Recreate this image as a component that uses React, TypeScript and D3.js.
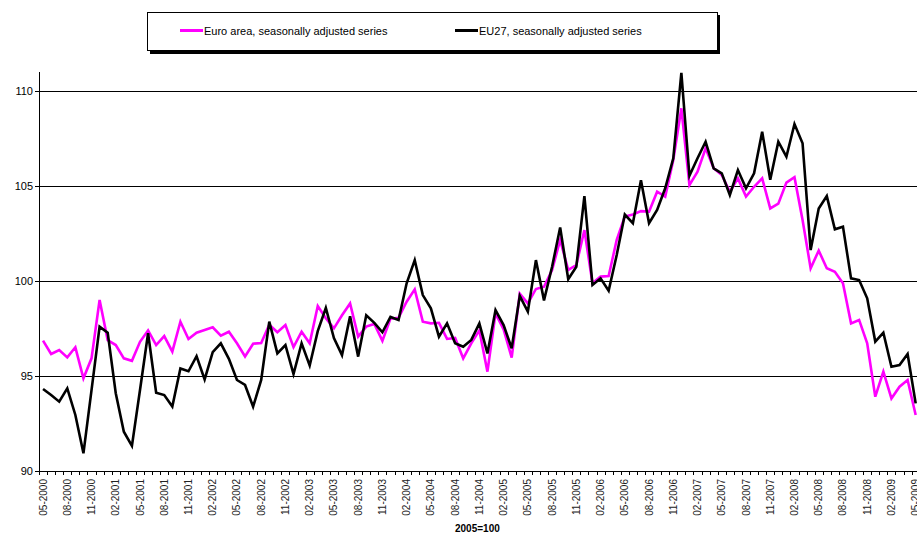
import { useEffect, useRef } from 'react';
import * as d3 from 'd3';

// monthly index, 2005=100, May 2000 .. May 2009
const startMonth = new Date(2000, 4, 1);
const endMonth = new Date(2009, 5, 1);
const months = d3.timeMonth.range(startMonth, endMonth).map((d) => d3.timeFormat('%m-%Y')(d));

const euroArea = [
  96.86, 96.16, 96.37, 95.98, 96.51, 94.88, 95.93, 99.0, 96.89, 96.63, 95.93, 95.8, 96.8, 97.4, 96.63, 97.1, 96.28, 97.86, 96.95,
  97.28, 97.42, 97.56, 97.12, 97.33, 96.72, 96.03, 96.7, 96.74, 97.7, 97.3, 97.68, 96.52, 97.33, 96.72, 98.68, 98.04, 97.51, 98.2,
  98.82, 97.07, 97.6, 97.74, 96.85, 98.02, 98.06, 98.91, 99.56, 97.86, 97.77, 97.8, 96.95, 97.0, 95.93, 96.72, 97.4, 95.23,
  98.3, 97.45, 95.97, 99.33, 98.82, 99.58, 99.7, 100.58, 102.16, 100.58, 100.84, 102.68, 99.88, 100.23, 100.26, 102.16, 103.39, 103.5, 103.68,
  103.65, 104.7, 104.44, 106.37, 109.09, 105.05, 105.75, 106.98, 105.93, 105.58, 104.7, 105.4, 104.44, 104.96, 105.4, 103.82, 104.07,
  105.18, 105.46, 103.21, 100.67, 101.6, 100.67, 100.49, 99.88, 97.77, 97.95, 96.72, 93.91, 95.23, 93.82, 94.44, 94.79, 92.95
];

const eu27 = [
  94.32, 94.0, 93.65, 94.35, 92.95, 90.93, 94.26, 97.6, 97.28, 94.09, 92.07, 91.32, 94.26, 97.25, 94.12, 94.0, 93.39, 95.4, 95.25,
  96.04, 94.82, 96.26, 96.72, 95.9, 94.79, 94.53, 93.39, 94.79, 97.86, 96.19, 96.63, 95.1, 96.72, 95.55, 97.36, 98.58, 97.0, 96.1,
  98.14, 96.02, 98.2, 97.8, 97.3, 98.11, 97.95, 99.88, 101.1, 99.26, 98.56, 97.07, 97.77, 96.72, 96.54, 96.9, 97.77, 96.19,
  98.47, 97.68, 96.46, 99.22, 98.39, 101.1, 98.98, 100.75, 102.82, 100.09, 100.75, 104.47, 99.79, 100.14, 99.49, 101.37, 103.5, 103.04, 105.3,
  103.04, 103.74, 104.88, 106.46, 110.96, 105.54, 106.46, 107.33, 105.93, 105.67, 104.53, 105.84, 104.88, 105.67, 107.86, 105.33, 107.33,
  106.54, 108.26, 107.25, 101.63, 103.82, 104.47, 102.72, 102.86, 100.14, 100.05, 99.09, 96.81, 97.28, 95.49, 95.58, 96.16, 93.56
];

const yTicks = [90, 95, 100, 105, 110];

const seriesList = [
  { name: 'Euro area, seasonally adjusted series', color: '#ff00ff', values: euroArea },
  { name: 'EU27, seasonally adjusted series', color: '#000000', values: eu27 }
];

export default function App() {
  const svgRef = useRef<SVGSVGElement | null>(null);

  useEffect(() => {
    const svgEl = svgRef.current;
    if (!svgEl) return;
    const width = 917;
    const height = 535;
    const svg = d3.select(svgEl);
    svg.selectAll('*').remove();

    const left = 39;
    const step = 8.08;
    const x = d3.scaleBand<string>().domain(months).range([left, left + step * months.length]).padding(0);
    const y = d3.scaleLinear().domain([90, 111]).range([471, 72]);
    const cx = (i: number) => (x(months[i]) ?? 0) + x.bandwidth() / 2;
    const font = 'Liberation Sans, Arial, sans-serif';

    // gridlines
    svg.append('g')
      .selectAll('line')
      .data(yTicks.filter((t) => t > 90))
      .join('line')
      .attr('x1', left).attr('x2', width)
      .attr('y1', (d) => Math.round(y(d)) + 0.5).attr('y2', (d) => Math.round(y(d)) + 0.5)
      .attr('stroke', '#000').attr('stroke-width', 1);

    // y axis
    svg.append('line').attr('x1', left + 0.5).attr('x2', left + 0.5).attr('y1', y(111)).attr('y2', 471.5).attr('stroke', '#000');
    svg.append('g')
      .selectAll('line')
      .data(yTicks)
      .join('line')
      .attr('x1', left - 4).attr('x2', left)
      .attr('y1', (d) => Math.round(y(d)) + 0.5).attr('y2', (d) => Math.round(y(d)) + 0.5)
      .attr('stroke', '#000');
    svg.append('g')
      .selectAll('text')
      .data(yTicks)
      .join('text')
      .attr('x', left - 6).attr('y', (d) => y(d) + 4)
      .attr('text-anchor', 'end')
      .attr('font-family', font).attr('font-size', 11)
      .text((d) => String(d));

    // x axis
    svg.append('line').attr('x1', left).attr('x2', width).attr('y1', 471.5).attr('y2', 471.5).attr('stroke', '#000');
    svg.append('g')
      .selectAll('line')
      .data(months)
      .join('line')
      .attr('x1', (d) => Math.round(x(d) ?? 0) + 0.5).attr('x2', (d) => Math.round(x(d) ?? 0) + 0.5)
      .attr('y1', 471).attr('y2', 475)
      .attr('stroke', '#000');
    svg.append('g')
      .selectAll('text')
      .data(months.filter((_, i) => i % 3 === 0))
      .join('text')
      .attr('transform', (d) => `translate(${(x(d) ?? 0) + x.bandwidth() / 2 + 3.5},479) rotate(-90)`)
      .attr('text-anchor', 'end')
      .attr('font-family', font).attr('font-size', 10)
      .attr('fill', '#222')
      .text((d) => d);
    svg.append('text')
      .attr('x', 455).attr('y', 532)
      .attr('font-family', font).attr('font-size', 10).attr('font-weight', 'bold')
      .text('2005=100');

    // series
    const line = d3.line<number>().x((_, i) => cx(i)).y((d) => y(d));
    svg.append('g')
      .selectAll('path')
      .data(seriesList)
      .join('path')
      .attr('d', (d) => line(d.values))
      .attr('fill', 'none')
      .attr('stroke', (d) => d.color)
      .attr('stroke-width', 2.6)
      .attr('stroke-linejoin', 'miter');

    // legend
    const lg = svg.append('g');
    lg.append('rect').attr('x', 150).attr('y', 15).attr('width', 570).attr('height', 39).attr('fill', '#000');
    lg.append('rect').attr('x', 147.5).attr('y', 12.5).attr('width', 570).attr('height', 38).attr('fill', '#fff').attr('stroke', '#000');
    const items = [{ x: 180 }, { x: 455 }];
    seriesList.forEach((s, i) => {
      lg.append('line').attr('x1', items[i].x).attr('x2', items[i].x + 23).attr('y1', 30.5).attr('y2', 30.5).attr('stroke', s.color).attr('stroke-width', 3);
      lg.append('text').attr('x', items[i].x + 24).attr('y', 34.5).attr('font-family', font).attr('font-size', 11).text(s.name);
    });
    svg.attr('width', width).attr('height', height);
  }, []);

  return (
    <div style={{ position: 'absolute', left: 0, top: 0, width: 917, height: 535, background: '#fff', overflow: 'hidden' }}>
      <svg ref={svgRef} width={917} height={535} style={{ display: 'block' }} />
    </div>
  );
}
